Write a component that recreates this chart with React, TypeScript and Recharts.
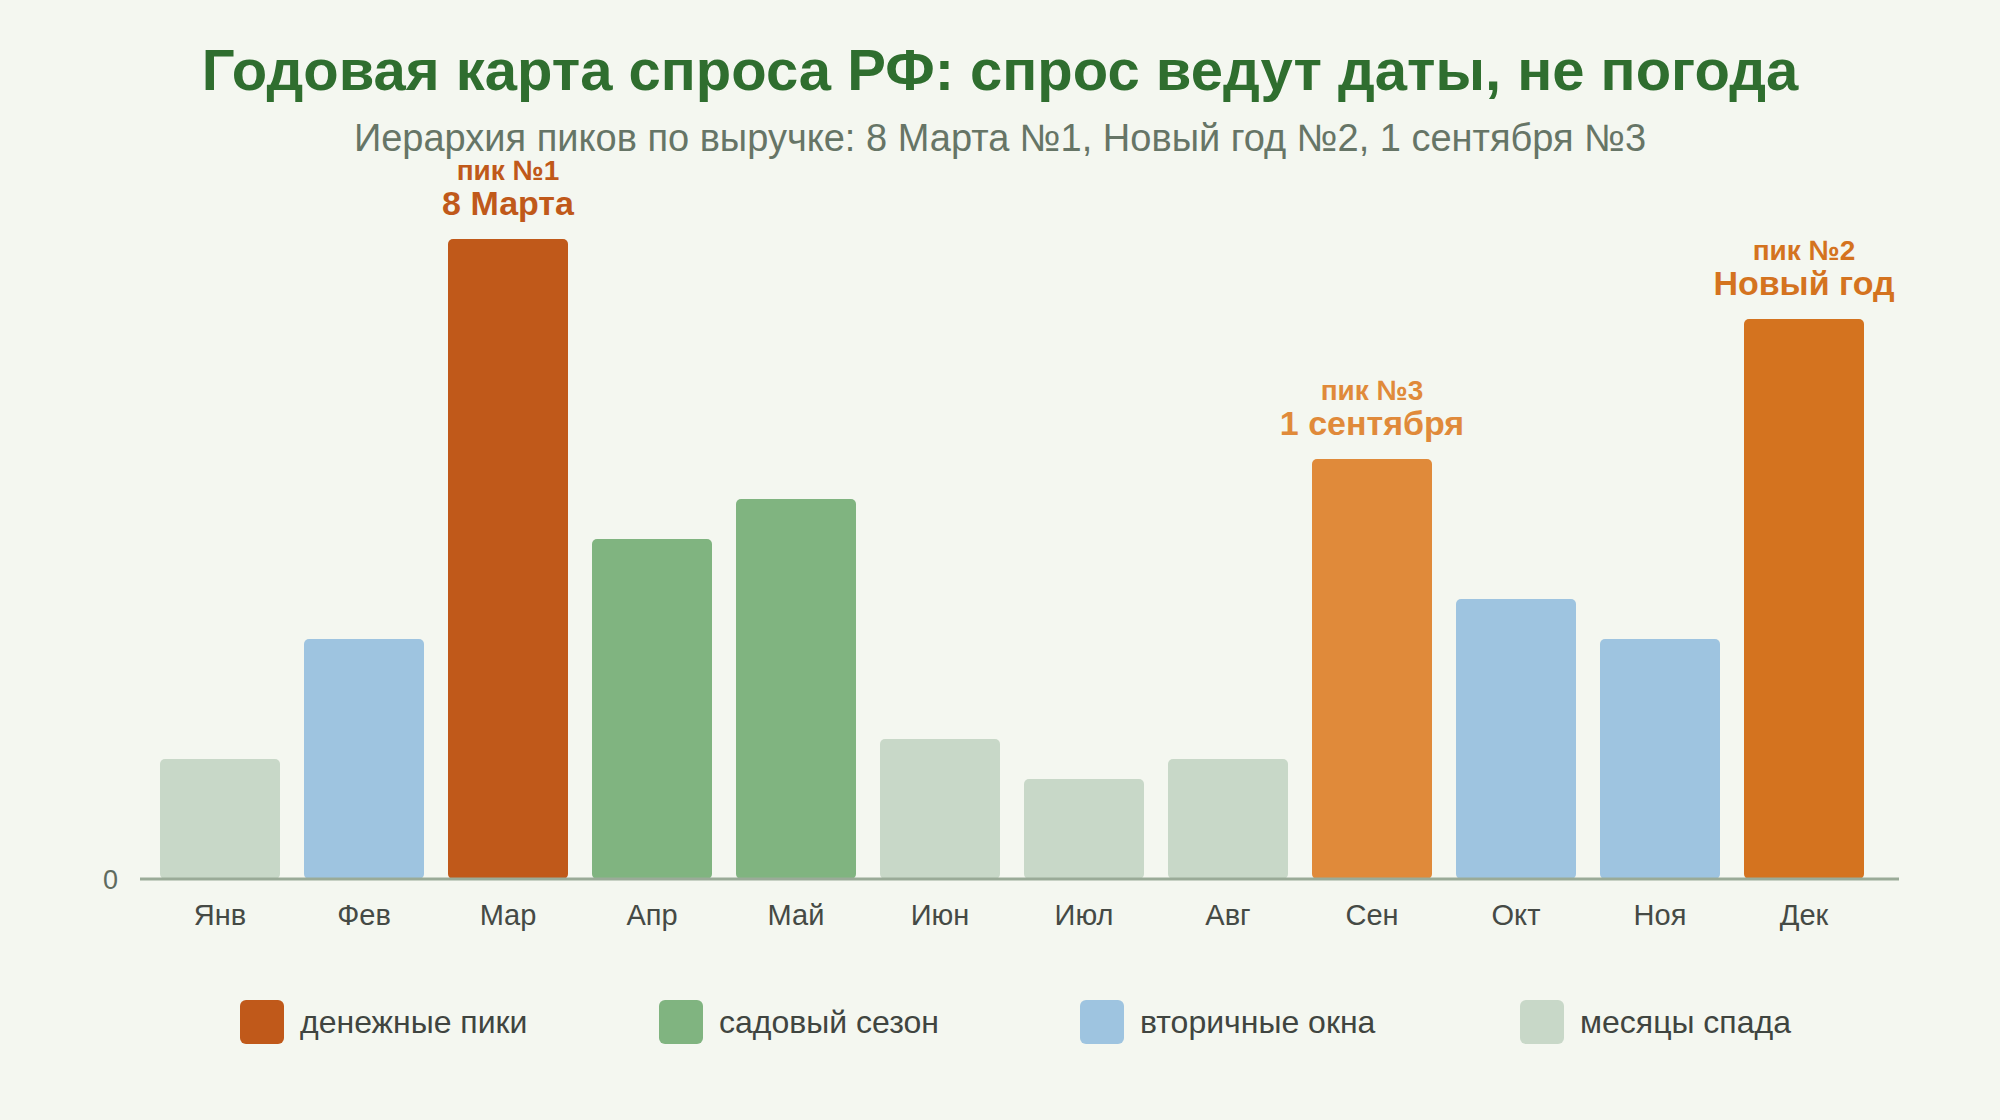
import { Bar, BarChart, Cell, XAxis, YAxis } from "recharts";

const months = ["Янв", "Фев", "Мар", "Апр", "Май", "Июн", "Июл", "Авг", "Сен", "Окт", "Ноя", "Дек"];
const demand = [30, 60, 160, 85, 95, 35, 25, 30, 105, 70, 60, 140];
const barColors = [
  "#c8d8c8", "#9ec4e0", "#c0591a", "#80b480", "#80b480", "#c8d8c8",
  "#c8d8c8", "#c8d8c8", "#e08a3a", "#9ec4e0", "#9ec4e0", "#d4731f",
];
const peakRanks = ["", "", "пик №1", "", "", "", "", "", "пик №3", "", "", "пик №2"];
const peakNames = ["", "", "8 Марта", "", "", "", "", "", "1 сентября", "", "", "Новый год"];

const legendNames = ["денежные пики", "садовый сезон", "вторичные окна", "месяцы спада"];
const legendColors = ["#c0591a", "#80b480", "#9ec4e0", "#c8d8c8"];
// left edge of each legend item, px
const legendLefts = [240, 659, 1080, 1520];

const FONT = '"Liberation Sans", Arial, sans-serif';
const BG = "#f4f7f0";

const data = months.map((m, i) => ({
  month: m,
  value: demand[i],
  color: barColors[i],
  rank: peakRanks[i],
  name: peakNames[i],
}));

function PeakLabel(props: any) {
  const { x, y, width, index } = props;
  const item = data[index];
  if (!item || !item.rank) return null;
  const cx = x + width / 2;
  return (
    <g fontFamily={FONT} fontWeight="bold" fill={item.color}>
      <text x={cx} y={y - 59} textAnchor="middle" fontSize={28}>
        {item.rank}
      </text>
      <text x={cx} y={y - 24} textAnchor="middle" fontSize={34}>
        {item.name}
      </text>
    </g>
  );
}

export default function App() {
  return (
    <div
      style={{
        position: "absolute",
        left: 0,
        top: 0,
        width: 2000,
        height: 1120,
        background: BG,
        fontFamily: FONT,
        overflow: "hidden",
      }}
    >
      <div
        style={{
          position: "absolute",
          top: 40,
          left: 0,
          width: 2000,
          textAlign: "center",
          fontSize: 58,
          fontWeight: "bold",
          color: "#2f6e2f",
          lineHeight: "60px",
        }}
      >
        Годовая карта спроса РФ: спрос ведут даты, не погода
      </div>
      <div
        style={{
          position: "absolute",
          top: 117,
          left: 0,
          width: 2000,
          textAlign: "center",
          fontSize: 38,
          color: "#667566",
          lineHeight: "42px",
        }}
      >
        Иерархия пиков по выручке: 8 Марта №1, Новый год №2, 1 сентября №3
      </div>

      <div style={{ position: "absolute", left: 0, top: 0 }}>
        <BarChart
          width={2000}
          height={1120}
          data={data}
          margin={{ top: 179, right: 101, bottom: 181, left: 80 }}
        >
          <XAxis
            dataKey="month"
            axisLine={{ stroke: "#9aab98", strokeWidth: 3 }}
            tickLine={false}
            tickMargin={19}
            height={60}
            padding={{ left: 8, right: 23 }}
            tick={{ fontSize: 29, fill: "#454a45", fontFamily: FONT }}
          />
          <YAxis
            domain={[0, 175]}
            ticks={[0]}
            width={60}
            axisLine={false}
            tickLine={false}
            tickMargin={16}
            tick={{ fontSize: 27, fill: "#5f6b5f", fontFamily: FONT }}
          />
          <Bar dataKey="value" barSize={120} radius={5} isAnimationActive={false} label={PeakLabel}>
            {data.map((d) => (
              <Cell key={d.month} fill={d.color} />
            ))}
          </Bar>
        </BarChart>
      </div>

      {legendNames.map((name, i) => (
        <div
          key={name}
          style={{
            position: "absolute",
            top: 1000,
            left: legendLefts[i],
            display: "flex",
            alignItems: "center",
          }}
        >
          <div
            style={{
              width: 44,
              height: 44,
              borderRadius: 6,
              background: legendColors[i],
              marginRight: 16,
            }}
          />
          <span style={{ fontSize: 32, color: "#404540", whiteSpace: "nowrap" }}>{name}</span>
        </div>
      ))}
    </div>
  );
}
